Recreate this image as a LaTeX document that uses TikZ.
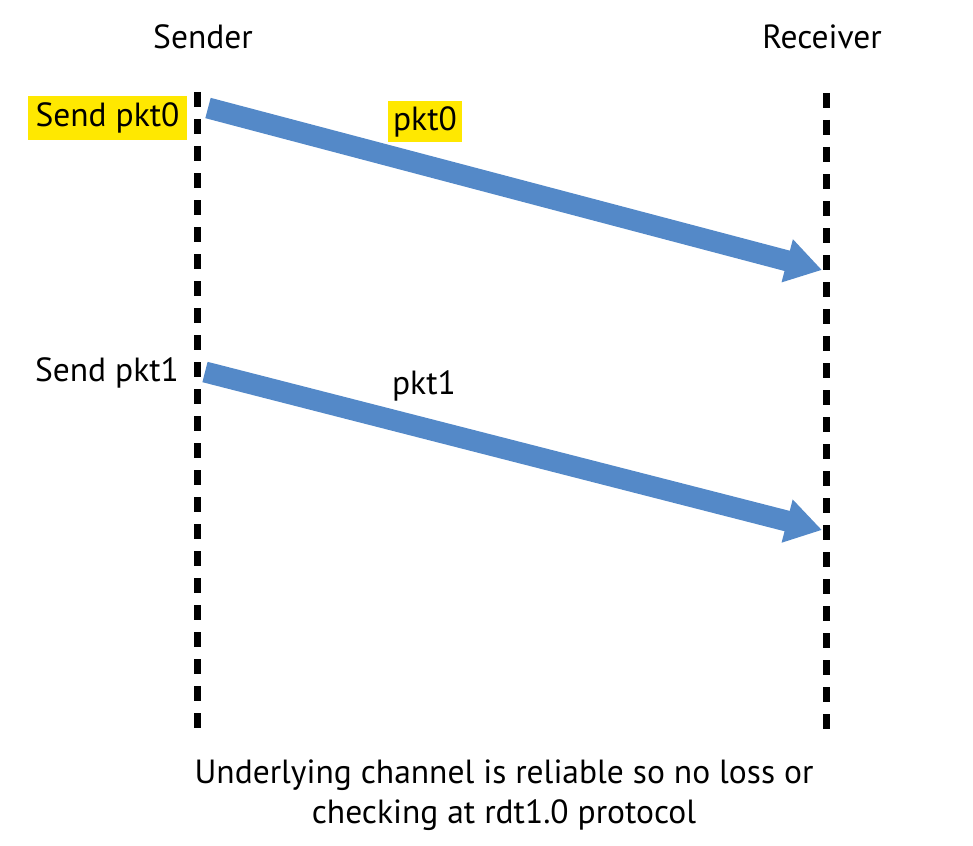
\documentclass[tikz,border=0pt]{standalone}
\usepackage{fontspec}
\setmainfont{PT Sans}
\usetikzlibrary{arrows.meta,positioning}
\definecolor{pktblue}{RGB}{84,137,200}
\definecolor{hlyellow}{RGB}{255,232,0}
\tikzstyle{lifeline} = [line width=7pt, dash pattern=on 15pt off 12pt]
\tikzstyle{pktarrow} = [line width=21pt, color=pktblue, -{Triangle[length=36pt,width=42pt]}]
\tikzstyle{msgtext} = [font=\fontsize{33.5}{40}\selectfont, inner sep=0pt]
\tikzstyle{marked} = [msgtext, fill=hlyellow]

\begin{document}
\begin{tikzpicture}[x=1pt, y=-1pt]
\useasboundingbox (0,0) rectangle (973,845);
% Hosts
\node[msgtext] (sender) at (203,37) {Sender};
\node[msgtext] (receiver) at (822,37) {Receiver};

% Lifelines
\coordinate (sTop) at (197,92);
\coordinate (sBot) at (197,733);
\coordinate (rTop) at (826,93);
\coordinate (rBot) at (826,733);
\draw[lifeline] (sTop) -- (sBot);
\draw[lifeline] (rTop) -- (rBot);

% Packets
\coordinate (s0) at (208,108);
\coordinate (r0) at (822,270);
\coordinate (s1) at (205,372);
\coordinate (r1) at (822,530);
\draw[pktarrow] (s0) -- (r0);
\draw[pktarrow] (s1) -- (r1);

\node[marked, minimum width=159pt, minimum height=44pt] (send0) at (107.5,118) {Send pkt0};
\node[marked, minimum width=74pt, minimum height=41pt] (pkt0) at (425,122) {pkt0};
\node[msgtext] (send1) at (107,373) {Send pkt1};
\node[msgtext] (pkt1) at (424,386) {pkt1};

% Note
\node[msgtext, align=center] (note) at (504,795) {Underlying channel is reliable so no loss or\\checking at rdt1.0 protocol};
\end{tikzpicture}
\end{document}
